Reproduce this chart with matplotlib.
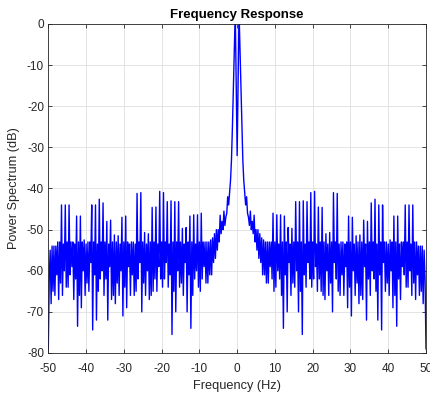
import numpy as np
import matplotlib
matplotlib.use('Agg')
import matplotlib.pyplot as plt

plt.rcParams.update({
    'font.family': ['Liberation Sans', 'DejaVu Sans'],
    'axes.unicode_minus': False,
    'xtick.direction': 'in',
    'ytick.direction': 'in',
    'xtick.top': True,
    'ytick.right': True,
})

# one-sided power spectrum, f = 0, 0.25, ..., 50 Hz
# one row per Hz: [f = n, n+0.25, n+0.5, n+0.75]
# (real signal -> mirrored for the negative frequencies)
F_STEP = 0.25
mag_rows_db = [
    [-32, -14, 3, -6],          # 0
    [-16, -25, -33, -38],       # 1
    [-41, -44, -42, -46],       # 2
    [-47, -49, -45.5, -50],     # 3
    [-48, -51, -46.5, -53],     # 4
    [-50, -55, -50, -57],       # 5
    [-51, -58, -52, -61],       # 6
    [-52.5, -61, -53, -63],     # 7
    [-53, -63, -53, -59],       # 8
    [-53, -62, -46, -65],       # 9
    [-53, -64, -46.4, -60],     # 10
    [-53.5, -62, -46.4, -66],   # 11
    [-53, -74, -46.7, -61],     # 12
    [-53, -70, -49.5, -58],     # 13
    [-53.5, -66, -49.7, -63],   # 14
    [-53, -64, -43.2, -60],     # 15
    [-53, -70, -43.2, -65],     # 16
    [-53, -75.5, -43, -61],     # 17
    [-53.5, -64, -43.2, -58],   # 18
    [-53, -62, -41, -64],       # 19
    [-53, -62, -40.7, -59],     # 20
    [-53.5, -65, -44.5, -62],   # 21
    [-53, -65, -44.6, -66],     # 22
    [-53, -67, -51, -60],       # 23
    [-53.5, -66, -50.7, -63],   # 24
    [-53, -70, -41, -58],       # 25
    [-53, -62, -41.2, -65],     # 26
    [-53.5, -66, -53, -61],     # 27
    [-53, -66, -53.5, -59],     # 28
    [-53, -69, -46.7, -64],     # 29
    [-53, -71, -47, -60],       # 30
    [-53.5, -66, -51.5, -63],   # 31
    [-53, -68, -51.3, -66],     # 32
    [-53, -67, -47.7, -59],     # 33
    [-53.5, -72, -48, -62],     # 34
    [-53, -66, -43.5, -60],     # 35
    [-53, -62, -42.6, -65],     # 36
    [-53.5, -72, -44, -61],     # 37
    [-53, -74.4, -44, -58],     # 38
    [-53, -65, -53, -63],       # 39
    [-53.5, -66, -52.5, -60],   # 40
    [-53, -69, -46.7, -66],     # 41
    [-53, -73.5, -46.7, -62],   # 42
    [-53.5, -67, -53, -59],     # 43
    [-53, -61, -44, -64],       # 44
    [-53, -64, -44, -60],       # 45
    [-53.5, -66, -44, -63],     # 46
    [-53, -67, -53, -61],       # 47
    [-54, -66, -54, -65],       # 48
    [-54, -68, -55, -62],       # 49
]
mag_end_db = -79                # f = 50

x_ticks = [-50, -40, -30, -20, -10, 0, 10, 20, 30, 40, 50]
y_ticks = [0, -10, -20, -30, -40, -50, -60, -70, -80]

mag_pos = np.array([v for row in mag_rows_db for v in row] + [mag_end_db])
mag_db = np.concatenate([mag_pos[:0:-1], mag_pos])
freq = np.arange(-(len(mag_pos) - 1), len(mag_pos)) * F_STEP

TXT = '#262626'

fig = plt.figure(figsize=(4.3, 3.96), dpi=100)
ax = fig.add_axes([0.1123, 0.1086, 0.8784, 0.8308])

ax.plot(freq, mag_db, color='#0000FF', linewidth=1.0)

ax.set_xlim(-50, 50)
ax.set_ylim(-80, 0)
ax.set_xticks(x_ticks)
ax.set_yticks(y_ticks)
ax.grid(True, color='#DFDFDF', linewidth=0.6)
ax.set_axisbelow(True)
ax.tick_params(labelsize=8.5, colors=TXT, length=3, width=0.6)
ax.tick_params(axis='x', pad=7)
ax.tick_params(axis='y', pad=3)
for s in ax.spines.values():
    s.set_color(TXT)
    s.set_linewidth(0.6)

ax.set_title('Frequency Response', fontsize=9.5, fontweight='bold', color='black', pad=4)
ax.set_xlabel('Frequency (Hz)', fontsize=9.2, color=TXT, labelpad=4)
ax.set_ylabel('Power Spectrum (dB)', fontsize=9.2, color=TXT, labelpad=5)

fig.savefig('out.png', dpi=100, facecolor='white')
